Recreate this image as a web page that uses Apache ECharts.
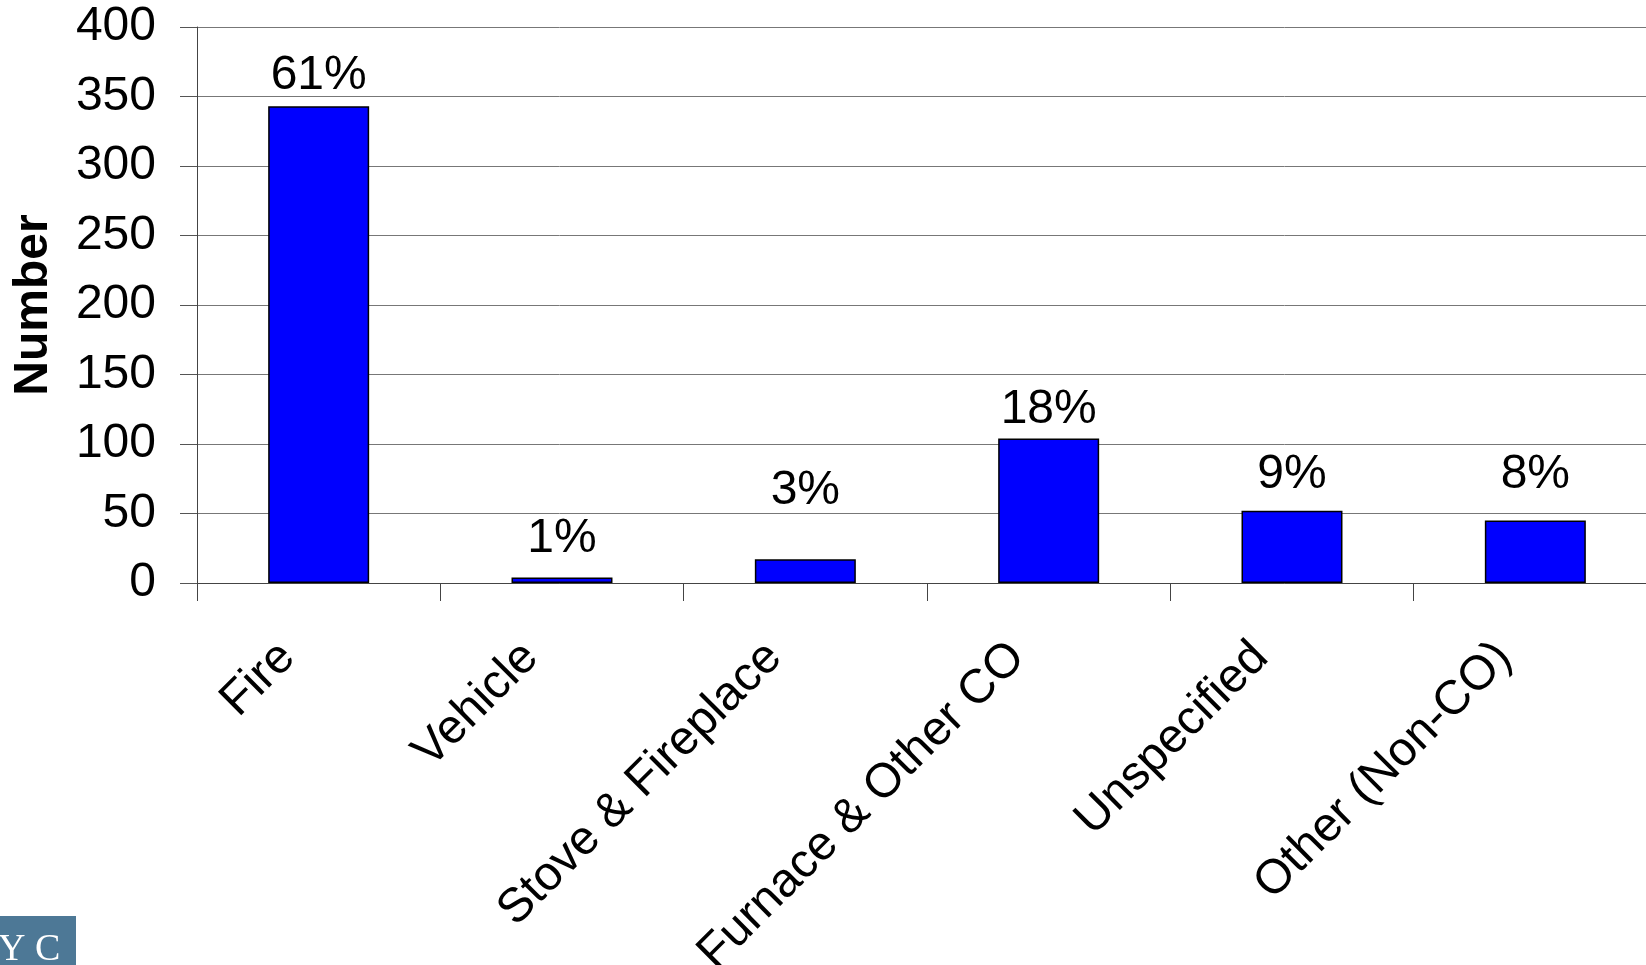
<html>
<head>
    <script src="https://cdn.jsdelivr.net/npm/echarts@6/dist/echarts.min.js"></script>
    <style>
        body { margin: 0; background: #fff; }
    </style>
</head>
<body>
    <div id="chart" style="width: 1646px;height:965px;"></div>
    <script>
        var categories = ['Fire', 'Vehicle', 'Stove & Fireplace', 'Furnace & Other CO', 'Unspecified', 'Other (Non-CO)'];
        var counts = [343, 4, 17, 104, 52, 45];
        var shares = ['61%', '1%', '3%', '18%', '9%', '8%'];
        var yTicks = [0, 50, 100, 150, 200, 250, 300, 350, 400];
        // label gaps above bars (hand placed in the original)
        var labelGap = [-11, -3, 27, -13, -5, 4];

        var font = 'Liberation Sans, Arial, sans-serif';

        // echarts drops the label next to min/max when the font is this big,
        // so the tick labels are split over two stacked axes
        var evenTicks = yTicks.filter(function (v, i) { return i % 2 === 0; });
        var oddTicks = yTicks.filter(function (v, i) { return i % 2 === 1; });

        function labelAxis(values, main) {
            return {
                type: 'value',
                position: 'left',
                min: yTicks[0],
                max: yTicks[yTicks.length - 1],
                interval: 50,
                name: main ? 'Number' : '',
                nameLocation: 'middle',
                nameGap: 122,
                nameMoveOverlap: false,
                nameTextStyle: { fontFamily: font, fontSize: 48, fontWeight: 'bold', color: '#000' },
                axisLine: { show: main, lineStyle: { color: '#444', width: 1 } },
                axisTick: { show: main, length: 17, lineStyle: { color: '#555' } },
                axisLabel: {
                    margin: 41, color: '#000', fontFamily: font, fontSize: 48,
                    customValues: values, hideOverlap: false
                },
                splitLine: { show: main, lineStyle: { color: '#777', width: 1 } }
            };
        }

        var myChart = echarts.init(document.getElementById('chart'));
        myChart.setOption({
            animation: false,
            grid: { left: 197, top: 27, right: -11, bottom: 382, containLabel: false, outerBoundsMode: 'none' },
            xAxis: {
                type: 'category',
                data: categories,
                axisLine: { lineStyle: { color: '#444', width: 1 } },
                axisTick: { show: true, length: 18, lineStyle: { color: '#444' } },
                axisLabel: {
                    rotate: 45, margin: 36, color: '#000',
                    fontFamily: font, fontSize: 48,
                    padding: [0, 44, 0, 0],
                    interval: 0
                }
            },
            yAxis: [labelAxis(evenTicks, true), labelAxis(oddTicks, false)],
            series: [{
                type: 'bar',
                yAxisIndex: 0,
                barWidth: '41.5%',
                data: counts.map(function (v, i) {
                    return {
                        value: v,
                        label: { distance: labelGap[i] }
                    };
                }),
                itemStyle: { color: '#0000ff', borderColor: '#000', borderWidth: 1.5 },
                label: {
                    show: true,
                    position: 'top',
                    color: '#000',
                    fontFamily: font,
                    fontSize: 48,
                    formatter: function (p) { return shares[p.dataIndex]; }
                }
            }],
            graphic: [
                { type: 'rect', left: 0, top: 916, shape: { width: 76, height: 49 }, style: { fill: '#4d7896' } },
                { type: 'text', left: -2, top: 921, style: { text: 'Y C', fill: '#fff', font: '38px Liberation Serif, serif' } }
            ]
        });
    </script>
</body>
</html>
